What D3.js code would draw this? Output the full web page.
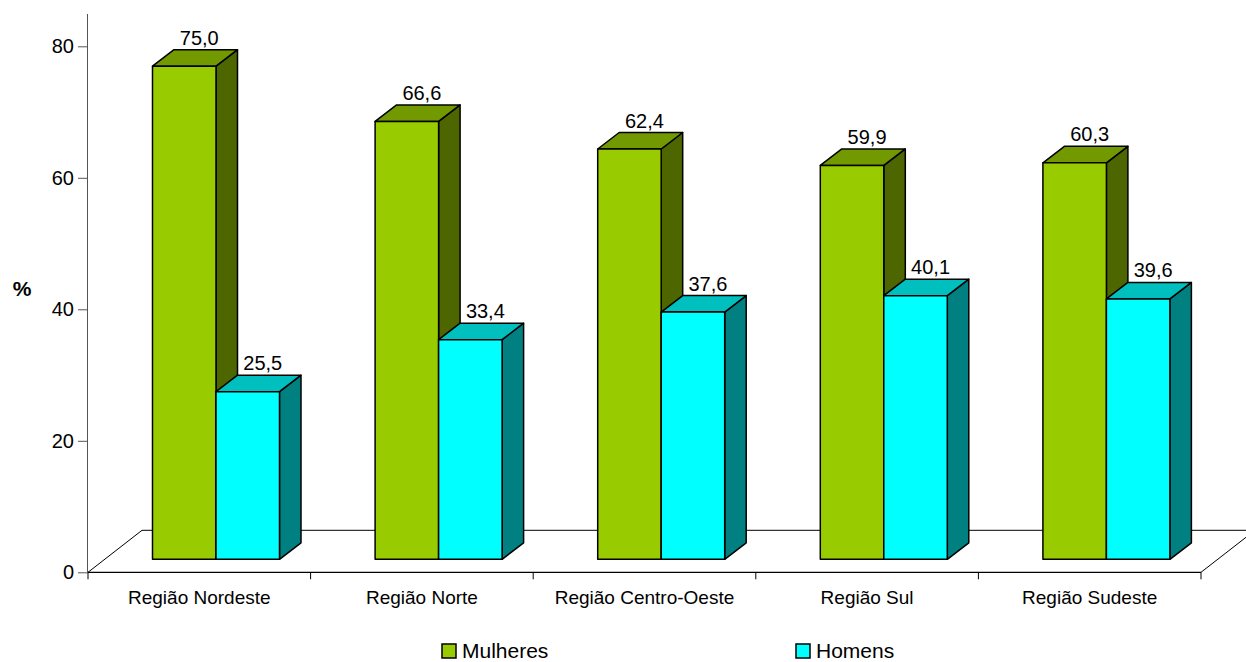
<!DOCTYPE html>
<html>
<head>
<meta charset="utf-8">
<script src="https://cdn.jsdelivr.net/npm/d3@7"></script>
<style>
  html, body { margin: 0; padding: 0; background: #fff; }
  svg { display: block; font-family: "Liberation Sans", Arial, sans-serif; }
</style>
</head>
<body>
<svg id="chart" width="1246" height="662"></svg>
<script>
// Regions and the share (%) for each group
const categories = ["Região Nordeste", "Região Norte", "Região Centro-Oeste", "Região Sul", "Região Sudeste"];
const seriesNames = ["Mulheres", "Homens"];
const mulheres = [75.0, 66.6, 62.4, 59.9, 60.3];
const homens = [25.5, 33.4, 37.6, 40.1, 39.6];
const yTicks = [0, 20, 40, 60, 80];

const seriesValues = [mulheres, homens];
const palette = {
  Mulheres: { front: "#99cc00", top: "#739900", side: "#4d6600" },
  Homens:   { front: "#00ffff", top: "#00bfbf", side: "#008080" }
};

const svg = d3.select("#chart");

// Plot frame (front plane of the floor)
const left = 88, right = 1201, bottom = 572.3, topY = 46.3;
// Oblique projection: full floor depth and bar placement within it
const floorDepth = { dx: 54, dy: -42 };
const barFront = { dx: 16.7, dy: -13 };
const barDepth = { dx: 21.5, dy: -16.5 };

const y = d3.scaleLinear().domain([0, 80]).range([bottom, topY]);
const x0 = d3.scaleBand().domain(categories).range([left, right]).padding(0.4295).paddingOuter(0.4295 / 2);
const x1 = d3.scaleBand().domain(seriesNames).range([0, x0.bandwidth()]).padding(0);

// Floor
svg.append("path")
  .attr("d", `M${left},${bottom} L${left + floorDepth.dx},${bottom + floorDepth.dy} L${right + floorDepth.dx},${bottom + floorDepth.dy} L${right},${bottom}`)
  .attr("fill", "none").attr("stroke", "#000").attr("stroke-width", 1);

// Value axis
const yAxis = svg.append("g").attr("transform", `translate(${left},0)`)
  .call(d3.axisLeft(y).tickValues(yTicks).tickSize(10).tickPadding(4).tickFormat(d3.format("d")));
yAxis.select(".domain").attr("d", `M-0.5,14 V${bottom}`).attr("stroke", "#555");
yAxis.selectAll(".tick line").attr("stroke", "#555");
yAxis.selectAll(".tick text").attr("font-size", 20).attr("fill", "#000").attr("font-family", "Liberation Sans, Arial, sans-serif");

// Category axis (front edge of the floor)
svg.append("line").attr("x1", left).attr("x2", right).attr("y1", bottom).attr("y2", bottom)
  .attr("stroke", "#000").attr("stroke-width", 1.2);
const bounds = categories.map(c => x0(c) - x0.step() * x0.paddingOuter()).concat([right]);
svg.selectAll(".cat-tick").data(bounds).join("line")
  .attr("x1", d => d).attr("x2", d => d).attr("y1", bottom).attr("y2", bottom + 7)
  .attr("stroke", "#000").attr("stroke-width", 1);
svg.selectAll(".cat-label").data(categories).join("text")
  .attr("x", d => x0(d) + x0.bandwidth() / 2).attr("y", 604)
  .attr("text-anchor", "middle").attr("font-size", 19).attr("fill", "#000")
  .text(d => d);

// "%" title
svg.append("text").attr("x", 22).attr("y", 296).attr("text-anchor", "middle")
  .attr("font-size", 21).attr("font-weight", "bold").text("%");

// 3D bars
const y0 = y(0);
categories.forEach((cat, i) => {
  seriesNames.forEach((s, j) => {
    const v = seriesValues[j][i];
    const c = palette[s];
    const xa = x0(cat) + x1(s) + barFront.dx;
    const xb = xa + x1.bandwidth();
    const yb = y0 + barFront.dy;
    const yt = y(v) + barFront.dy;
    const dx = barDepth.dx, dy = barDepth.dy;
    const g = svg.append("g").attr("stroke", "#000").attr("stroke-width", 1.5).attr("stroke-linejoin", "round");
    // side face
    g.append("path").attr("fill", c.side)
      .attr("d", `M${xb},${yb} L${xb + dx},${yb + dy} L${xb + dx},${yt + dy} L${xb},${yt} Z`);
    // top face
    g.append("path").attr("fill", c.top)
      .attr("d", `M${xa},${yt} L${xa + dx},${yt + dy} L${xb + dx},${yt + dy} L${xb},${yt} Z`);
    // front face
    g.append("rect").attr("fill", c.front)
      .attr("x", xa).attr("y", yt).attr("width", xb - xa).attr("height", yb - yt);
    // value label
    svg.append("text")
      .attr("x", (xa + xb) / 2 + 15).attr("y", yt + dy - 5)
      .attr("text-anchor", "middle").attr("font-size", 20).attr("fill", "#000")
      .text(d3.format(".1f")(v).replace(".", ","));
  });
});

// Legend
const legendX = [442, 796];
seriesNames.forEach((s, j) => {
  svg.append("rect").attr("x", legendX[j]).attr("y", 644).attr("width", 14).attr("height", 14)
    .attr("fill", palette[s].front).attr("stroke", "#000").attr("stroke-width", 1.5);
  svg.append("text").attr("x", legendX[j] + 20).attr("y", 657.5)
    .attr("font-size", 21).attr("fill", "#000").text(s);
});
</script>
</body>
</html>
